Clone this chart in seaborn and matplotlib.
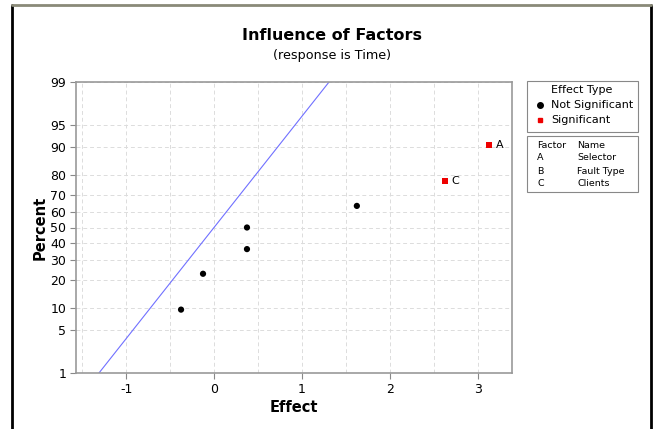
import numpy as np
import pandas as pd
import matplotlib
matplotlib.use("Agg")
import matplotlib.pyplot as plt
from matplotlib.lines import Line2D
from matplotlib.patches import Rectangle
import seaborn as sns
from statistics import NormalDist

# ---- data ----
effects = [-0.375, -0.125, 0.375, 0.375, 1.625, 2.625, 3.125]
percents = [9.46, 22.97, 50.0, 36.49, 63.51, 77.03, 90.54]
effect_type = ["Not Significant"] * 5 + ["Significant"] * 2
point_labels = ["", "", "", "", "", "C", "A"]
pse = 0.5625  # Lenth's PSE -> reference line slope
factors = ["A", "B", "C"]
factor_names = ["Selector", "Fault Type", "Clients"]
y_ticks = [1, 5, 10, 20, 30, 40, 50, 60, 70, 80, 90, 95, 99]
x_ticks = [-1, 0, 1, 2, 3]

df = pd.DataFrame({"Effect": effects, "Percent": percents, "Effect Type": effect_type})

nd = NormalDist()
_ppf = np.vectorize(lambda v: nd.inv_cdf(v / 100.0), otypes=[float])
_cdf = np.vectorize(lambda v: nd.cdf(v) * 100.0, otypes=[float])
def fwd(p):
    p = np.clip(np.asarray(p, dtype=float), 1e-6, 100 - 1e-6)
    return _ppf(p)
def inv(z):
    return _cdf(np.asarray(z, dtype=float))

sns.set_style("white")
plt.rcParams["font.family"] = ["DejaVu Sans"]
plt.rcParams["axes.unicode_minus"] = False
plt.rcParams["text.color"] = "black"
plt.rcParams["axes.labelcolor"] = "black"

fig = plt.figure(figsize=(6.53, 4.29), dpi=100)
ax = fig.add_axes([76/653, 1 - 373/429, (512-76)/653, (373-82)/429])
ax.set_yscale("function", functions=(fwd, inv))

# reference line
lp = np.array([1.0, 99.0])
lx = pse * fwd(lp)
ax.plot(lx, lp, color="#7070ff", lw=0.8, zorder=2)

palette = {"Not Significant": "black", "Significant": "#ee0000"}
markers = {"Not Significant": "o", "Significant": "s"}
sns.scatterplot(data=df, x="Effect", y="Percent", hue="Effect Type", style="Effect Type",
                palette=palette, markers=markers, s=20, edgecolor="none", legend=False,
                ax=ax, zorder=3)
for xv, yv, lab in zip(effects, percents, point_labels):
    if lab:
        ax.annotate(lab, (xv, yv), xytext=(5, 0), textcoords="offset points",
                    va="center", ha="left", fontsize=8, color="black")

ax.set_xlim(-1.57, 3.39)
ax.set_ylim(1, 99)
ax.set_yticks(y_ticks)
ax.set_yticklabels([str(t) for t in y_ticks])
ax.yaxis.set_minor_locator(matplotlib.ticker.NullLocator())
ax.set_xticks(x_ticks)
ax.set_xticks(np.arange(-1.5, 3.5, 0.5), minor=True)
ax.tick_params(axis="both", which="major", labelsize=9, length=4, width=0.8,
               color="#888888", direction="out", left=True, bottom=True, pad=3, labelcolor="black")
ax.tick_params(axis="x", which="minor", length=0)
ax.grid(True, which="both", axis="x", color="#dcdcdc", ls=(0, (4, 3)), lw=0.7)
ax.grid(True, which="major", axis="y", color="#dcdcdc", ls=(0, (4, 3)), lw=0.7)
for s in ax.spines.values():
    s.set_color("#999999")
    s.set_linewidth(1.2)
ax.set_xlabel("Effect", fontsize=10.5, fontweight="bold", labelpad=3)
ax.set_ylabel("Percent", fontsize=10.5, fontweight="bold", labelpad=2)

# titles
fig.text(332/653, 1 - 36/429, "Influence of Factors", ha="center", va="center",
         fontsize=11.5, fontweight="bold")
fig.text(332/653, 1 - 55/429, "(response is Time)", ha="center", va="center", fontsize=9.2)

# legend box 1
def fx(px): return px / 653
def fy(py): return 1 - py / 429
fig.patches.append(Rectangle((fx(527), fy(132)), fx(638) - fx(527), fy(81) - fy(132),
                             transform=fig.transFigure, fill=False, ec="#888888", lw=0.8))
fig.text(fx(582), fy(90), "Effect Type", ha="center", va="center", fontsize=8)
fig.lines.append(Line2D([fx(540)], [fy(105)], marker="o", ms=4, color="black",
                        transform=fig.transFigure, ls="none"))
fig.text(fx(551), fy(105), "Not Significant", ha="left", va="center", fontsize=8)
fig.lines.append(Line2D([fx(540)], [fy(120)], marker="s", ms=3.5, color="#ee0000",
                        transform=fig.transFigure, ls="none"))
fig.text(fx(551), fy(120), "Significant", ha="left", va="center", fontsize=8)

# legend box 2
fig.patches.append(Rectangle((fx(527), fy(192)), fx(638) - fx(527), fy(136) - fy(192),
                             transform=fig.transFigure, fill=False, ec="#888888", lw=0.8))
fig.text(fx(537), fy(145), "Factor", ha="left", va="center", fontsize=6.8)
fig.text(fx(577), fy(145), "Name", ha="left", va="center", fontsize=6.8)
for i, (f, n) in enumerate(zip(factors, factor_names)):
    yy = fy(158 + 13 * i)
    fig.text(fx(537), yy, f, ha="left", va="center", fontsize=6.8)
    fig.text(fx(577), yy, n, ha="left", va="center", fontsize=6.8)

# outer frame
fig.lines.append(Line2D([fx(12), fx(12)], [fy(5), 0], color="black", lw=2, transform=fig.transFigure))
fig.lines.append(Line2D([fx(651), fx(651)], [fy(5), 0], color="black", lw=2, transform=fig.transFigure))
fig.lines.append(Line2D([fx(12), fx(651)], [fy(5), fy(5)], color="#8a8a78", lw=2, transform=fig.transFigure))

fig.savefig("out.png", dpi=100)
